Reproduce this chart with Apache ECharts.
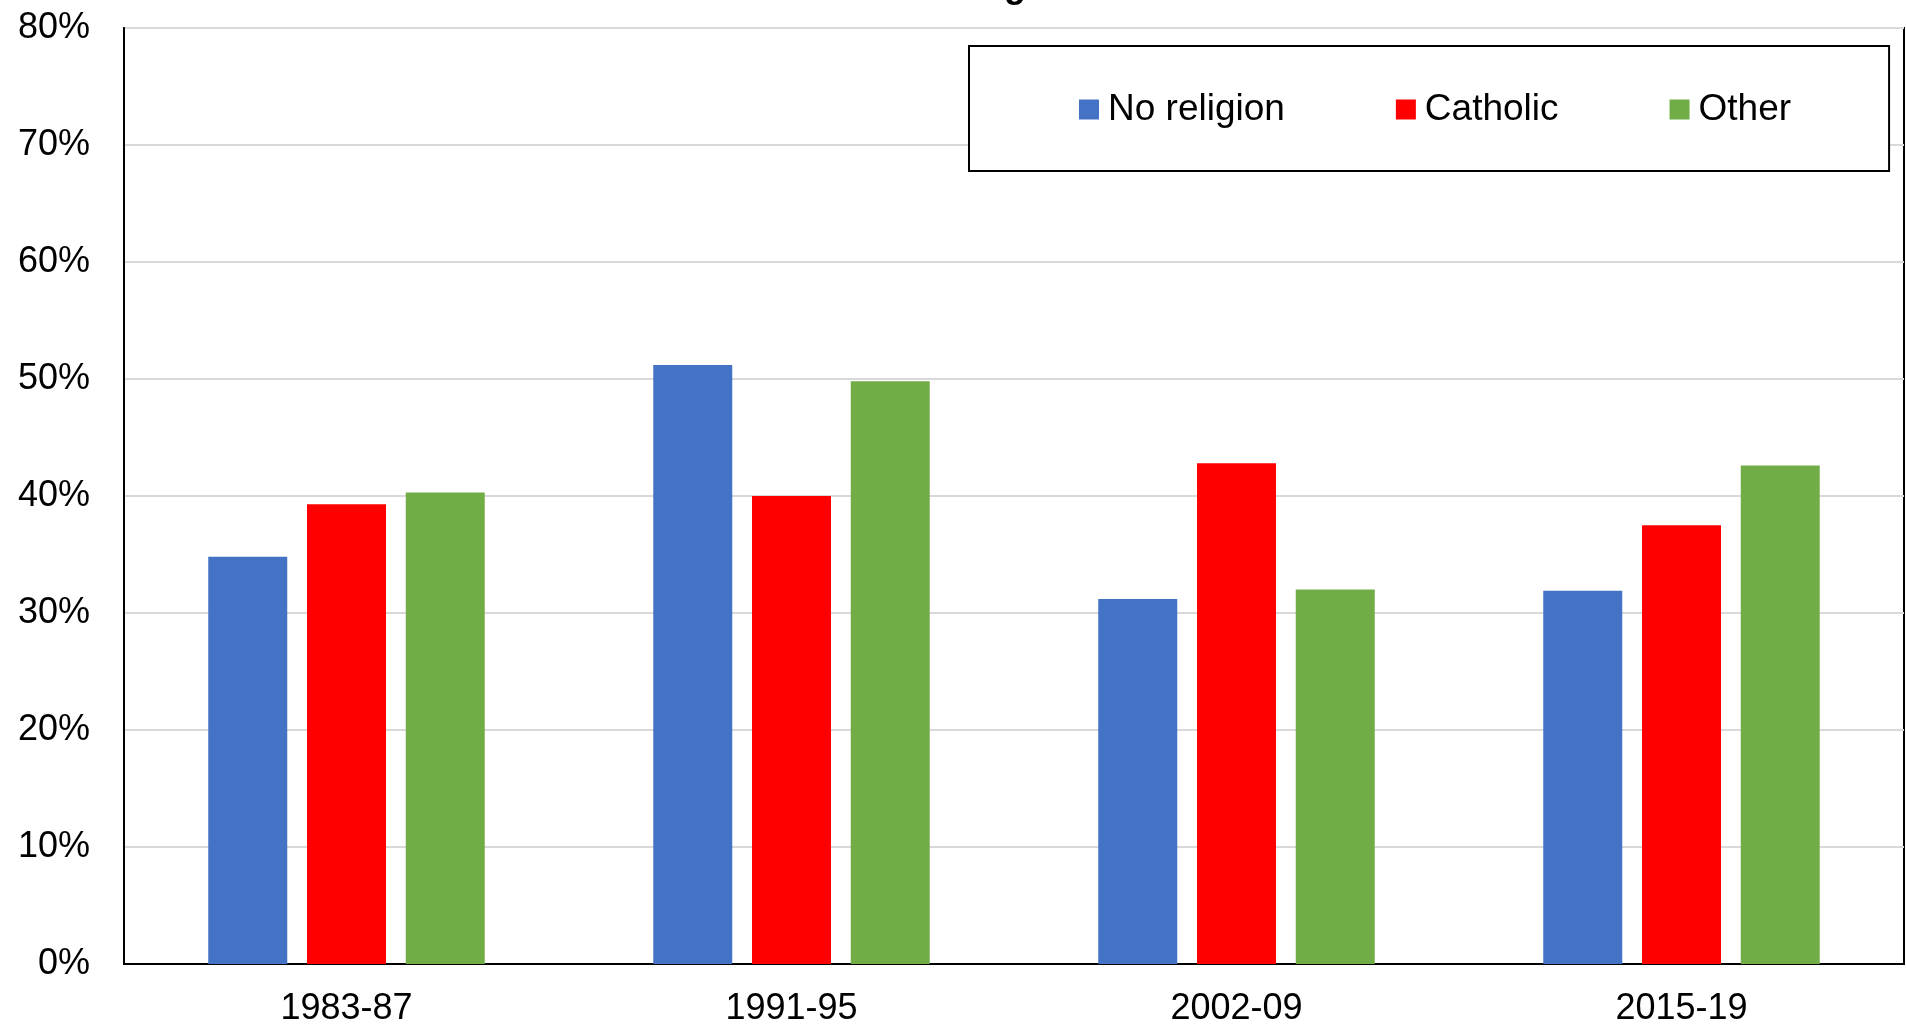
<!DOCTYPE html>
<html>
<head>
<meta charset="utf-8">
<script src="https://cdn.jsdelivr.net/npm/echarts@6/dist/echarts.min.js"></script>
<style>
  html, body { margin: 0; padding: 0; background: #fff; }
  #chart { width: 1906px; height: 1027px; }
</style>
</head>
<body>
<div id="chart"></div>
<script>
// periods on the x axis
const periods = ['1983-87', '1991-95', '2002-09', '2015-19']
// percent values
const noReligion = [34.8, 51.2, 31.2, 31.9]
const catholic = [39.3, 40.0, 42.8, 37.5]
const other = [40.3, 49.8, 32.0, 42.6]
const yTicks = [0, 10, 20, 30, 40, 50, 60, 70, 80]

const font = '"Liberation Sans", Arial, sans-serif'

const chart = echarts.init(document.getElementById('chart'))

function barSeries(name, data, color) {
  return {
    name: name,
    type: 'bar',
    data: data,
    barWidth: 79,
    barGap: '25%',
    itemStyle: { color: color },
    emphasis: { disabled: true }
  }
}

chart.setOption({
  animation: false,
  backgroundColor: '#fff',
  title: {
    // only the bottom of the title shows at the top edge
    text: 'religion',
    left: 1010,
    textAlign: 'center',
    top: -36,
    textStyle: { fontFamily: font, fontSize: 36, fontWeight: 'bold', color: '#000' }
  },
  grid: {
    left: 124,
    right: 2,
    top: 28,
    bottom: 58,
    show: true,
    borderColor: '#000',
    borderWidth: 2
  },
  legend: {
    data: ['No religion', 'Catholic', 'Other'],
    left: 969,
    top: 46,
    padding: [45, 98, 43, 110],
    borderColor: '#000',
    borderWidth: 2,
    backgroundColor: '#fff',
    itemGap: 111,
    itemWidth: 20,
    itemHeight: 20,
    icon: 'rect',
    textStyle: { fontFamily: font, fontSize: 37, color: '#000', padding: [0, 0, 0, 4] }
  },
  xAxis: {
    type: 'category',
    data: periods,
    axisLine: { lineStyle: { color: '#000', width: 2 } },
    axisTick: { show: false },
    axisLabel: { fontFamily: font, fontSize: 36, color: '#000', margin: 27 }
  },
  yAxis: {
    type: 'value',
    min: yTicks[0],
    max: yTicks[yTicks.length - 1],
    interval: 10,
    axisLine: { show: true, lineStyle: { color: '#000', width: 2 } },
    axisTick: { show: false },
    splitLine: { lineStyle: { color: '#d9d9d9', width: 2 } },
    axisLabel: {
      fontFamily: font,
      fontSize: 36,
      color: '#000',
      margin: 34,
      formatter: '{value}%'
    }
  },
  series: [
    barSeries('No religion', noReligion, '#4472C4'),
    barSeries('Catholic', catholic, '#FF0000'),
    barSeries('Other', other, '#70AD47')
  ]
})
</script>
</body>
</html>
